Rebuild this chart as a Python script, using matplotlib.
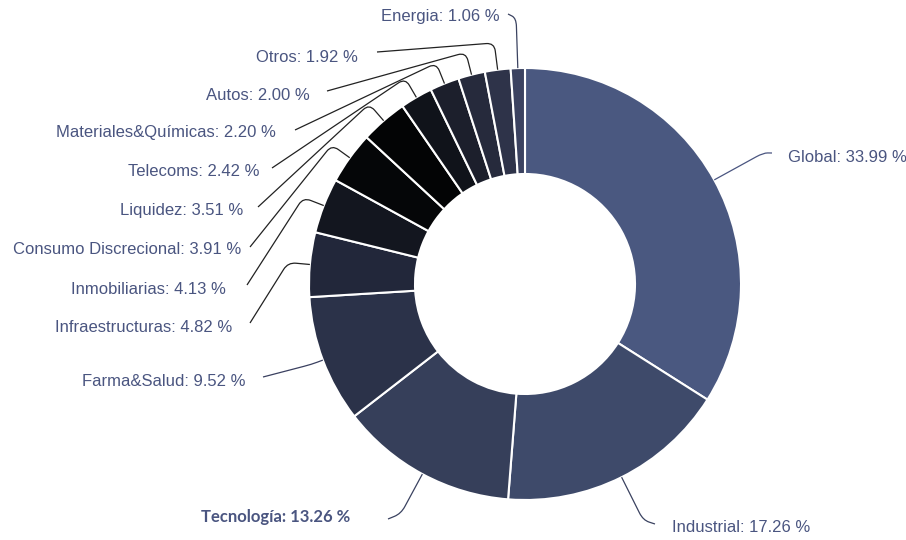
import matplotlib
matplotlib.use("Agg")
import matplotlib.pyplot as plt
import numpy as np
from matplotlib.path import Path
from matplotlib.patches import PathPatch

# data (clockwise from the top)
sectors = ["Global", "Industrial", "Tecnología", "Farma&Salud", "Infraestructuras",
           "Inmobiliarias", "Consumo Discrecional", "Liquidez", "Telecoms",
           "Materiales&Químicas", "Autos", "Otros", "Energia"]
weights = [33.99, 17.26, 13.26, 9.52, 4.82, 4.13, 3.91, 3.51, 2.42, 2.20, 2.00, 1.92, 1.06]

colors = ["#4a5880", "#3e4a6a", "#363f5a", "#2b3249", "#22273a", "#13161f", "#050608",
          "#030405", "#10131a", "#1c1f2c", "#262a3c", "#2e3349", "#3b4260"]

# label layout: line end (x, y), text anchor x, text y, alignment, elbow distance, line colour
layout = {
    "Global": ((772, 153), 788, 158, "left", 56, "#4a5580"),
    "Industrial": ((655, 524), 672, 528, "left", 48, "#3a4260"),
    "Tecnología": ((388, 519), 350, 517, "right", 45, "#3a4260"),
    "Farma&Salud": ((263, 377), 246, 381, "right", 12, "#3a4060"),
    "Infraestructuras": ((250, 323), 232, 328, "right", 22, "#222222"),
    "Inmobiliarias": ((247, 285), 226, 289, "right", 22, "#222222"),
    "Consumo Discrecional": ((250, 247), 241, 250, "right", 22, "#222222"),
    "Liquidez": ((258, 207), 243, 211, "right", 22, "#222222"),
    "Telecoms": ((272, 168), 260, 172, "right", 22, "#222222"),
    "Materiales&Químicas": ((295, 130), 276, 133, "right", 22, "#222222"),
    "Autos": ((327, 91), 310, 95, "right", 23, "#222222"),
    "Otros": ((377, 52), 358, 57, "right", 27, "#222222"),
    "Energia": ((508, 14), 500, 17, "right", 50, "#3a4260"),
}

cx, cy, R, W = 525, 284, 216, 106

fig = plt.figure(figsize=(9.06, 5.40), dpi=100)
ax = fig.add_axes([0, 0, 1, 1])

wedges, _ = ax.pie(weights, colors=colors, center=(cx, cy), radius=R,
                   startangle=-90, counterclock=True,
                   wedgeprops=dict(width=W, edgecolor="white", linewidth=1.5))

ax.set_xlim(0, 906)
ax.set_ylim(540, 0)
ax.set_aspect("equal")
ax.axis("off")


def leader(p0, e, l, rad=8):
    p0, e, l = np.array(p0, float), np.array(e, float), np.array(l, float)
    a = e + (p0 - e) * min(rad / np.linalg.norm(p0 - e), 0.5)
    b = e + (l - e) * min(rad / np.linalg.norm(l - e), 0.5)
    verts = [p0, a, e, b, l]
    codes = [Path.MOVETO, Path.LINETO, Path.CURVE3, Path.CURVE3, Path.LINETO]
    return Path(verts, codes)


for w, name, val in zip(wedges, sectors, weights):
    end, tx, ty, ha, d, lc = layout[name]
    mid = np.deg2rad((w.theta1 + w.theta2) / 2)
    dx, dy = np.cos(mid), np.sin(mid)
    p0 = (cx + R * dx, cy + R * dy)
    e = (cx + (R + d) * dx, cy + (R + d) * dy)
    ax.add_patch(PathPatch(leader(p0, e, end), fill=False, edgecolor=lc, lw=0.9))
    txt = f"{name}: {val:.2f} %"
    if name == "Tecnología":
        ax.text(tx, ty, txt, ha=ha, va="center", fontsize=12, fontweight="bold",
                family="Lato", color="#4a5580")
    else:
        ax.text(tx, ty, txt, ha=ha, va="center", fontsize=12,
                family="Liberation Sans", color="#4a5580")

fig.savefig("out.png", dpi=100)
